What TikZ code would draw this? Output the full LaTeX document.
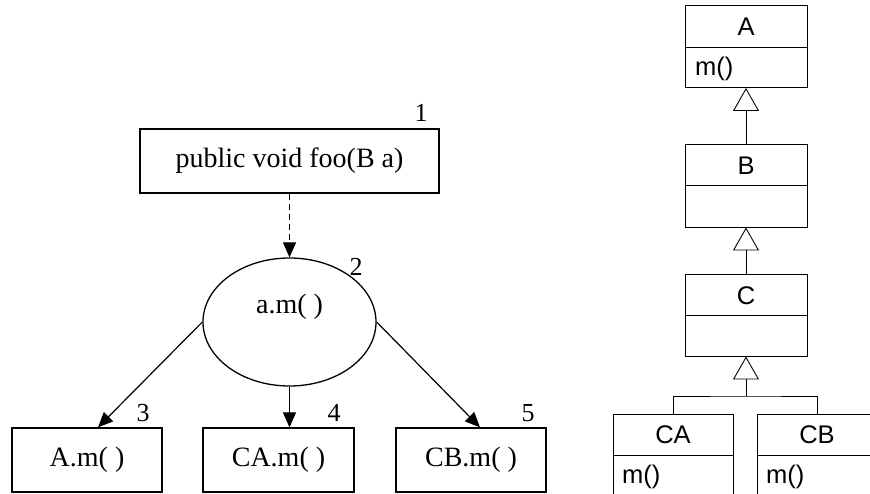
\documentclass[tikz,border=0pt]{standalone}
\usepackage{fontspec}
\setmainfont{Liberation Serif}
\newfontfamily\hsans{Liberation Sans}
\usetikzlibrary{shapes.geometric,arrows.meta,calc}
\begin{document}
\begin{tikzpicture}[x=1pt,y=-1pt,
  flowbox/.style={draw,line width=1.3pt,rectangle,inner sep=0pt,font=\fontsize{28}{30}\selectfont},
  oval/.style={draw,line width=1.3pt,ellipse,inner sep=0pt},
  num/.style={font=\fontsize{26}{28}\selectfont,inner sep=0pt},
  flowarrow/.style={line width=1.2pt,-{Triangle[length=15pt,width=13pt]}},
  umlbox/.style={draw,line width=0.9pt,rectangle,inner sep=0pt,minimum width=122pt},
  umltext/.style={font=\hsans\fontsize{25.5}{27}\selectfont,inner sep=0pt},
  umlline/.style={line width=0.9pt},
  inherit/.style={line width=0.9pt,-{Triangle[open,length=23pt,width=26pt,line width=0.9pt]}}
]
\useasboundingbox (0,0) rectangle (870,494);
\clip (0,0) rectangle (870,494);
% ---- left: call graph ----
\node[flowbox,minimum width=299pt,minimum height=64pt] (n1) at (289.5,161) {public void foo(B a)};
\node[num] (l1) at (421,113) {1};
\node[oval,minimum width=173pt,minimum height=128pt] (e) at (289.5,322) {};
\node[font=\fontsize{28}{30}\selectfont,inner sep=0pt] (et) at (289.5,307) {a.m( )};
\node[num] (l2) at (356,267) {2};
\node[flowbox,minimum width=150pt,minimum height=64pt] (b3) at (87,460) {A.m( )};
\node[flowbox,minimum width=151pt,minimum height=64pt] (b4) at (278.5,460) {CA.m( )};
\node[flowbox,minimum width=150pt,minimum height=64pt] (b5) at (471,460) {CB.m( )};
\node[num] (l3) at (143,413) {3};
\node[num] (l4) at (334,413) {4};
\node[num] (l5) at (528,413) {5};
\draw[flowarrow,dash pattern=on 6pt off 4pt] (n1.south) -- (e.north);
\draw[flowarrow] (e.west) -- ($(b3.north)+(11,0)$);
\draw[flowarrow] (e.south) -- (e.south |- b4.north);
\draw[flowarrow] (e.east) -- ($(b5.north)+(9,0)$);
% ---- right: class diagram ----
\node[umlbox,minimum height=82pt] (A) at (746,46.5) {};
\draw[umlline] (A.west |- 0,47) -- (A.east |- 0,47);
\node[umltext] (At) at (746,27) {A};
\node[umltext,anchor=west] (Am) at (695,69) {m()};
\node[umlbox,minimum height=83pt] (B) at (746,185.5) {};
\draw[umlline] (B.west |- 0,185) -- (B.east |- 0,185);
\node[umltext] (Bt) at (746,166) {B};
\node[umlbox,minimum height=82pt] (C) at (746,315) {};
\draw[umlline] (C.west |- 0,315) -- (C.east |- 0,315);
\node[umltext] (Ct) at (746,296) {C};
\node[umlbox,minimum width=120pt,minimum height=110pt] (CA) at (673,469) {};
\draw[umlline] (CA.west |- 0,455) -- (CA.east |- 0,455);
\node[umltext] (CAt) at (673,435) {CA};
\node[umltext,anchor=west] (CAm) at (622,477) {m()};
\node[umlbox,minimum width=120pt,minimum height=110pt] (CB) at (817,469) {};
\draw[umlline] (CB.west |- 0,455) -- (CB.east |- 0,455);
\node[umltext] (CBt) at (817,435) {CB};
\node[umltext,anchor=west] (CBm) at (766,477) {m()};
\draw[inherit] (B.north) -- (A.south);
\draw[inherit] (C.north) -- (B.south);
\coordinate (j) at (746,396);
\draw[inherit] (j) -- (C.south);
\draw[umlline] (CA.north) |- (j) -| (CB.north);
\end{tikzpicture}
\end{document}
